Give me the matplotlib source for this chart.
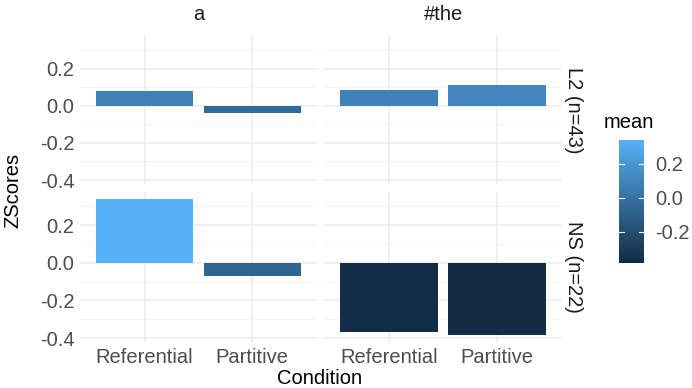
import matplotlib
matplotlib.use("Agg")
import matplotlib.pyplot as plt
import numpy as np
from matplotlib.colors import LinearSegmentedColormap, Normalize
from matplotlib.colorbar import ColorbarBase

plt.rcParams['font.family'] = ['Liberation Sans', 'DejaVu Sans']

# Data
conditions = ["Referential", "Partitive"]
determiners = ["a", "#the"]
groups = ["L2 (n=43)", "NS (n=22)"]
l2_a = [0.08, -0.04]
l2_the = [0.085, 0.11]
ns_a = [0.34, -0.07]
ns_the = [-0.37, -0.385]
values = {
    ("L2 (n=43)", "a"): l2_a,
    ("L2 (n=43)", "#the"): l2_the,
    ("NS (n=22)", "a"): ns_a,
    ("NS (n=22)", "#the"): ns_the,
}
y_ticks = [-0.4, -0.2, 0.0, 0.2]
y_minor = [-0.3, -0.1, 0.1, 0.3]
cbar_ticks = [-0.2, 0.0, 0.2]

W, H = 692, 388
fig = plt.figure(figsize=(W / 100, H / 100), dpi=100)
fig.patch.set_facecolor("white")

cmap = LinearSegmentedColormap.from_list("gg", ["#132B43", "#56B1F7"])
allv = np.concatenate([l2_a, l2_the, ns_a, ns_the])
norm = Normalize(vmin=allv.min(), vmax=allv.max())
rng = allv.max() - allv.min()
ylim = (allv.min() - 0.05 * rng, allv.max() + 0.05 * rng)

def px_axes(x0, y0, x1, y1):
    return fig.add_axes([x0 / W, 1 - y1 / H, (x1 - x0) / W, (y1 - y0) / H])

tick_color = "#4D4D4D"
fs = 14.5
panel_x = [(80, 317), (324, 562)]
panel_y = [(36, 184), (192, 342)]

for r, g in enumerate(groups):
    for c, d in enumerate(determiners):
        x0, x1 = panel_x[c]
        y0, y1 = panel_y[r]
        ax = px_axes(x0, y0, x1, y1)
        ax.set_facecolor("white")
        vals = values[(g, d)]
        xs = np.arange(len(conditions)) + 1
        ax.bar(xs, vals, width=0.9, color=[cmap(norm(v)) for v in vals], zorder=3)
        ax.set_xlim(0.4, 2.6)
        ax.set_ylim(*ylim)
        for yv in y_ticks:
            ax.axhline(yv, color="#EBEBEB", lw=1.1, zorder=1)
        for yv in y_minor:
            ax.axhline(yv, color="#F2F2F2", lw=0.6, zorder=1)
        for xv in xs:
            ax.axvline(xv, color="#EBEBEB", lw=1.1, zorder=1)
        for s in ax.spines.values():
            s.set_visible(False)
        ax.tick_params(length=0, labelsize=fs, labelcolor=tick_color, pad=4)
        ax.set_yticks(y_ticks)
        if c == 0:
            ax.set_yticklabels([f"{v:.1f}" for v in y_ticks])
        else:
            ax.set_yticklabels([])
        ax.set_xticks(xs)
        if r == 1:
            ax.set_xticklabels(conditions)
        else:
            ax.set_xticklabels([])
        if r == 0:
            ax.text(0.5, 1.0 + 22 / (y1 - y0), d, transform=ax.transAxes,
                    ha="center", va="center", fontsize=fs, color="#1A1A1A")
        if c == 1:
            ax.text(1.0 + 11 / (x1 - x0), 0.5, g, transform=ax.transAxes,
                    ha="center", va="center", rotation=-90, fontsize=fs,
                    color="#1A1A1A")

fig.text(320 / W, 1 - 378 / H, "Condition", ha="center", va="center",
         fontsize=fs, color="black")
fig.text(13 / W, 1 - 190 / H, "ZScores", ha="center", va="center",
         rotation=90, fontsize=fs, color="black")

# Colour bar legend
cax = px_axes(619, 140, 644, 263)
cb = ColorbarBase(cax, cmap=cmap, norm=norm, orientation="vertical")
cb.outline.set_visible(False)
cb.set_ticks(cbar_ticks)
cb.set_ticklabels([f"{v:.1f}" for v in cbar_ticks])
cax.tick_params(length=0, labelsize=fs, labelcolor=tick_color, pad=8)
for t in cbar_ticks:
    cax.plot([0, 0.2], [t, t], color="white", lw=0.8, transform=cax.get_yaxis_transform())
    cax.plot([0.8, 1.0], [t, t], color="white", lw=0.8, transform=cax.get_yaxis_transform())
fig.text(604 / W, 1 - 123 / H, "mean", ha="left", va="center",
         fontsize=fs, color="black")

fig.savefig("out.png", dpi=100)
